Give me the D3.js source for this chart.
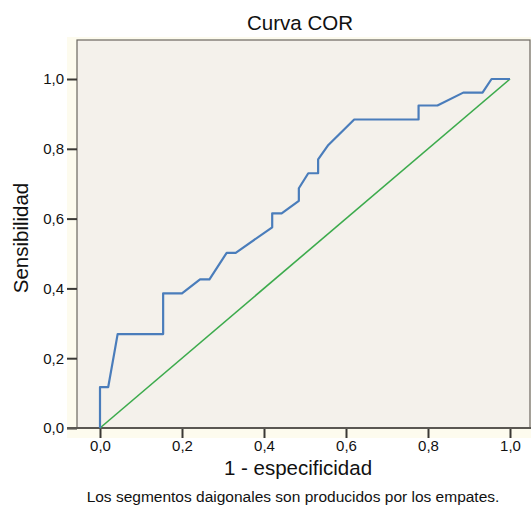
<!DOCTYPE html>
<html>
<head>
<meta charset="utf-8">
<script src="https://cdn.jsdelivr.net/npm/d3@7"></script>
<style>
body { margin:0; background:#fff; }
text { font-family: "Liberation Sans", Arial, sans-serif; fill:#111; }
</style>
</head>
<body>
<svg id="chart" width="531" height="506"></svg>
<script>
// curva COR: 1 - especificidad vs sensibilidad
var fpr = [0, 0, 0.02, 0.037, 0.043, 0.154, 0.154, 0.2, 0.244, 0.267, 0.309, 0.331, 0.42, 0.42, 0.443, 0.485, 0.485, 0.508, 0.532, 0.532, 0.557, 0.62, 0.777, 0.777, 0.823, 0.886, 0.933, 0.955, 1.0];
var tpr = [0, 0.117, 0.117, 0.229, 0.269, 0.269, 0.386, 0.386, 0.426, 0.426, 0.502, 0.502, 0.575, 0.615, 0.615, 0.651, 0.687, 0.730, 0.730, 0.770, 0.811, 0.884, 0.884, 0.924, 0.924, 0.961, 0.961, 1.0, 1.0];
var refLine = [0, 1];
var tickVals = [0, 0.2, 0.4, 0.6, 0.8, 1.0];

var svg = d3.select("#chart");

var x = d3.scaleLinear().domain([0,1]).range([100,510]);
var y = d3.scaleLinear().domain([0,1]).range([428,79]);
var fmt = function(d){ return d3.format(".1f")(d).replace(".", ","); };

// fondo
svg.append("rect")
    .attr("x",67).attr("y",37).attr("width",464).attr("height",401)
    .attr("fill","#fdfbee");
svg.append("rect")
    .attr("x",77).attr("y",40).attr("width",453).attr("height",388)
    .attr("fill","#f4f1eb")
    .attr("stroke","#6b6760").attr("stroke-width",1.2);

// ejes
var xAxis = svg.append("g")
    .attr("transform","translate(0,428)")
    .call(d3.axisBottom(x).tickValues(tickVals).tickFormat(fmt).tickSize(10).tickSizeOuter(0));
var yAxis = svg.append("g")
    .attr("transform","translate(77,0)")
    .call(d3.axisLeft(y).tickValues(tickVals).tickFormat(fmt).tickSize(10).tickSizeOuter(0));

xAxis.select(".domain").remove();
yAxis.select(".domain").remove();
svg.selectAll(".tick line").attr("stroke","#3a3834").attr("stroke-width",2);
svg.selectAll(".tick text").attr("font-size",15).attr("font-family","Liberation Sans, Arial, sans-serif").attr("fill","#111");
xAxis.selectAll(".tick text").attr("y",12).attr("dy","0.71em");
yAxis.selectAll(".tick text").attr("x",-13);

svg.append("line")
    .attr("x1",67).attr("x2",531).attr("y1",428).attr("y2",428)
    .attr("stroke","#5a5752").attr("stroke-width",2);

// diagonal de referencia
svg.append("line")
    .attr("x1",x(refLine[0])).attr("y1",y(refLine[0]))
    .attr("x2",x(refLine[1])).attr("y2",y(refLine[1]))
    .attr("stroke","#3cab4c").attr("stroke-width",1.6);

// curva
var line = d3.line().x(function(d){ return x(d[0]); }).y(function(d){ return y(d[1]); });
svg.append("path")
    .attr("d", line(d3.zip(fpr,tpr)))
    .attr("fill","none")
    .attr("stroke","#4a7dbb")
    .attr("stroke-width",2.2)
    .attr("stroke-linejoin","round");

// textos
svg.append("text").attr("x",300).attr("y",30).attr("text-anchor","middle")
    .attr("font-size",20.5).text("Curva COR");
svg.append("text").attr("x",298).attr("y",475).attr("text-anchor","middle")
    .attr("font-size",20.5).text("1 - especificidad");
svg.append("text").attr("transform","translate(28,238) rotate(-90)").attr("text-anchor","middle")
    .attr("font-size",20.5).text("Sensibilidad");
svg.append("text").attr("x",293).attr("y",502).attr("text-anchor","middle")
    .attr("font-size",15.5).text("Los segmentos daigonales son producidos por los empates.");
</script>
</body>
</html>
